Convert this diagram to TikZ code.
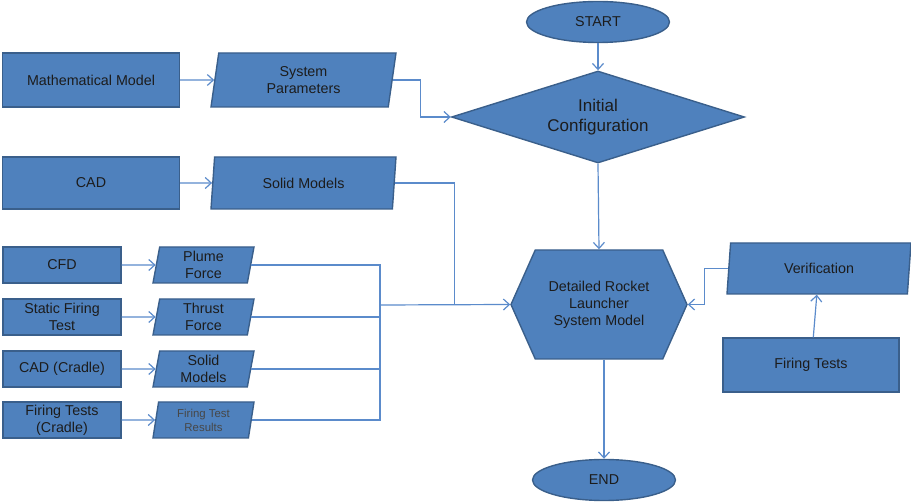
\documentclass[tikz,border=0pt]{standalone}
\usepackage{fontspec}
\setmainfont{Liberation Sans}
\usetikzlibrary{shapes.geometric,shapes.symbols,arrows.meta}
\definecolor{boxfill}{HTML}{4F81BD}
\definecolor{boxline}{HTML}{3A5F8B}
\definecolor{linkcol}{HTML}{5B8BCB}
\definecolor{txtcol}{HTML}{1C1C1C}
\begin{document}
\begin{tikzpicture}[x=1pt,y=-1pt,
				every node/.style={fill=boxfill,draw=boxline,line width=1.4pt,text=txtcol,align=center,inner sep=2pt,font=\fontsize{14.3}{17}\selectfont},
				block/.style={rectangle,minimum width=177pt,minimum height=54pt},
				small/.style={rectangle,minimum width=118pt,minimum height=36pt},
				data/.style={trapezium,trapezium left angle=76,trapezium right angle=104,trapezium stretches body,minimum width=185pt,minimum height=54pt},
				sdata/.style={trapezium,trapezium left angle=78,trapezium right angle=102,trapezium stretches body,minimum width=101pt,minimum height=36pt},
				term/.style={ellipse,minimum width=143pt,minimum height=41pt,inner sep=0pt},
				link/.style={draw=linkcol,line width=1.2pt},
				arr/.style={link,-{Straight Barb[length=6pt,width=11pt]}}]
\useasboundingbox (0,0) rectangle (911,502);
% main column
\node[term] (start) at (598,22) {START};
\node[diamond,aspect=3.18,minimum width=293pt,minimum height=92pt,inner sep=0pt,font=\fontsize{17}{20}\selectfont] (init) at (598,117) {Initial\\Configuration};
\node[signal,signal to=west and east,signal pointer angle=132,minimum width=176pt,minimum height=109pt] (detail) at (599,304.5) {Detailed Rocket\\Launcher\\System Model};
\node[term] (end) at (604,480) {END};
% upper inputs
\node[block] (math) at (91,80) {Mathematical Model};
\node[data] (syspar) at (303.5,80) {System\\Parameters};
\node[block,minimum height=52pt] (cad) at (91,183) {CAD};
\node[data,minimum height=52pt] (solid) at (303.5,183) {Solid Models};
% lower inputs
\node[small] (cfd) at (62,265) {CFD};
\node[sdata] (plume) at (203.5,265) {Plume\\Force};
\node[small] (static) at (62,317) {Static Firing\\Test};
\node[sdata] (thrust) at (203.5,317) {Thrust\\Force};
\node[small] (cadc) at (62,369) {CAD (Cradle)};
\node[sdata] (solidc) at (203.5,369) {Solid\\Models};
\node[small] (firec) at (62,420) {Firing Tests\\(Cradle)};
\node[sdata,text=black!72,font=\fontsize{11.4}{14}\selectfont] (results) at (203.5,420) {Firing Test\\Results};
% verification
\node[data,minimum width=184pt,minimum height=51pt] (verif) at (819,268.5) {Verification};
\node[block,minimum width=176pt] (firing) at (811,365) {Firing Tests};
\coordinate (bus) at (380,305);

\draw[arr] (start) -- (init);
\draw[arr] (init.south) -- (detail.north);
\draw[arr] (end.north |- detail.south) -- (end.north);
\draw[arr] (math) -- (syspar);
\draw[arr] (cad) -- (solid);
\draw[arr] (syspar.east) -- ++(28,0) |- (init.west);
\draw[link] (solid.east) -- ++(60,0) |- (detail.west);
\draw[arr] (cfd) -- (plume);
\draw[arr] (static) -- (thrust);
\draw[arr] (cadc) -- (solidc);
\draw[arr] (firec) -- (results);
\draw[link] (plume.east) -| (bus);
\draw[link] (results.east) -| (bus);
\draw[link] (thrust.east) -- (thrust.east -| bus);
\draw[link] (solidc.east) -- (solidc.east -| bus);
\draw[arr] (bus) -- (detail.west);
\draw[arr] (firing) -- (verif);
\draw[arr] (verif.west) -- ++(-24,0) |- (detail.east);
\end{tikzpicture}
\end{document}
